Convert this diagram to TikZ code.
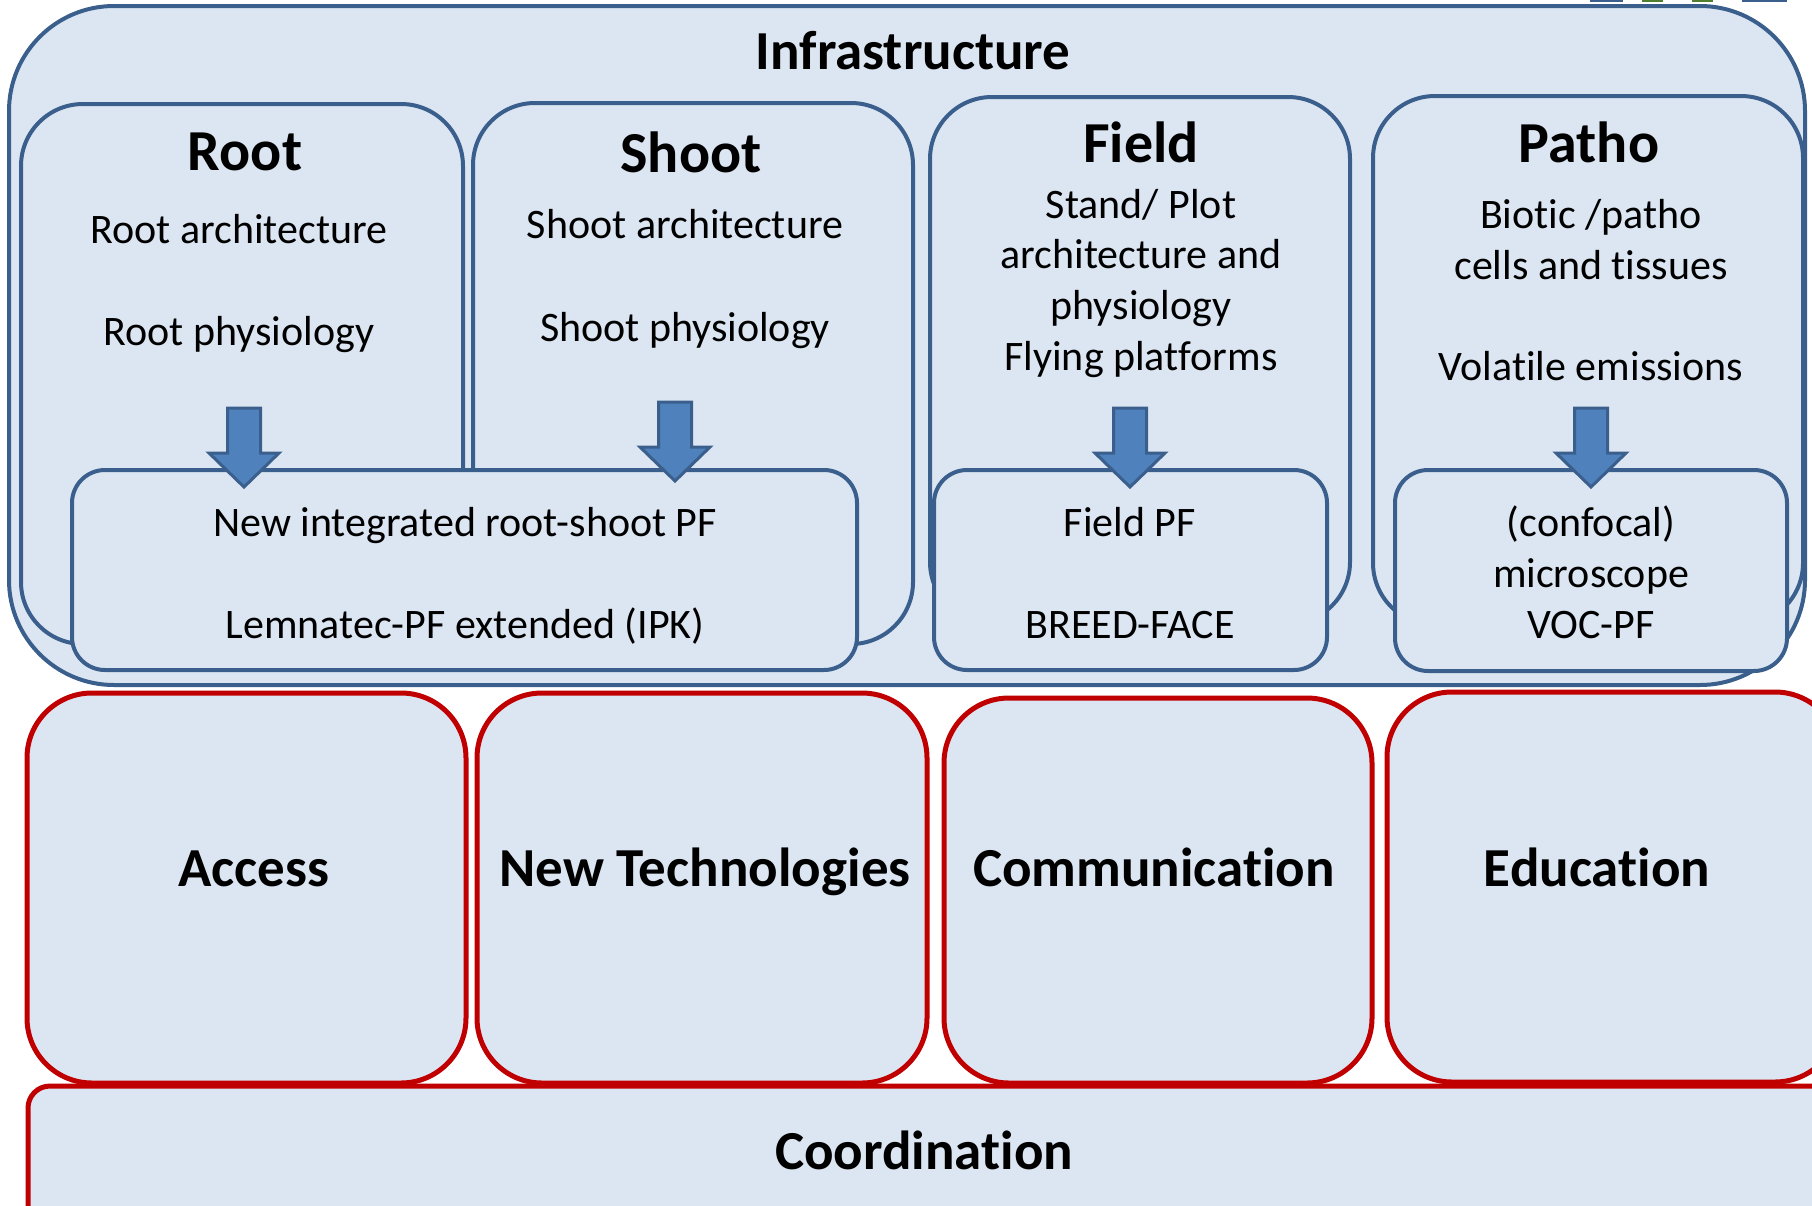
\documentclass[tikz,border=0pt]{standalone}
\usepackage{fontspec}
\setmainfont{Carlito}[RawFeature={-liga;-clig;-calt;-dlig}]
\usepackage{tikz}
\usetikzlibrary{fit}

\definecolor{boxfill}{HTML}{DCE6F2}
\definecolor{bordblue}{HTML}{3B5F8C}
\definecolor{arrowblue}{HTML}{4F81BD}
\definecolor{wpred}{HTML}{C00000}
\definecolor{logogreen}{HTML}{4E7F2E}

\begin{document}
\begin{tikzpicture}[x=1pt, y=-1pt,
			infra/.style={draw=bordblue, fill=boxfill, line width=4pt, rounded corners=105pt, inner sep=0pt},
			cell/.style={draw=bordblue, fill=boxfill, line width=4pt, rounded corners=62pt, inner sep=0pt},
			pfbox/.style={draw=bordblue, fill=boxfill, line width=4pt, rounded corners=33pt, inner sep=0pt},
			task/.style={draw=wpred, fill=boxfill, line width=5pt, rounded corners=65pt, inner sep=0pt},
			blockarrow/.style={draw=bordblue, fill=arrowblue, line width=3pt},
			ttl/.style={font=\fontsize{58}{70}\selectfont\bfseries, anchor=base, inner sep=0pt},
			txt/.style={font=\fontsize{42}{50}\selectfont, anchor=base, inner sep=0pt},
			lbl/.style={font=\fontsize{55}{66}\selectfont\bfseries, anchor=base, inner sep=0pt},
		]
			\useasboundingbox (0,0) rectangle (1812,1205);
			\clip (0,0) rectangle (1812,1205);
		
			%Logo remains
			\fill[bordblue]  (1590,0) rectangle (1623,2);
			\fill[logogreen] (1642,0) rectangle (1663,2);
			\fill[logogreen] (1692,0) rectangle (1713,2);
			\fill[bordblue]  (1742,0) rectangle (1787,2);
		
			%Cells
			\node[infra, fit={(9,6) (1805,685)}]		(infra)		{};
			\node[cell, fit={(21,104) (463,644)}]		(root)		{};
			\node[cell, fit={(473,103) (913,644)}]		(shoot)		{};
			\node[cell, fit={(930,97) (1350,624)}]		(field)		{};
			\node[cell, fit={(1373,96) (1803,625)}]		(patho)		{};
		
			\node[ttl, font=\fontsize{55}{66}\selectfont\bfseries]	(infratitle)	at (913,69)		{Infrastructure};
			\node[ttl]	(roottitle)		at (245,170)	{Root};
			\node[txt]	(rootarch)		at (239,243)	{Root architecture};
			\node[txt]	(rootphys)		at (239,345)	{Root physiology};
			\node[ttl]	(shoottitle)	at (691,172)	{Shoot};
			\node[txt]	(shootarch)		at (685,238)	{Shoot architecture};
			\node[txt]	(shootphys)		at (685,341)	{Shoot physiology};
			\node[ttl]	(fieldtitle)	at (1141,162)	{Field};
			\node[txt]	(fielda)		at (1141,218)	{Stand/ Plot};
			\node[txt]	(fieldb)		at (1141,268)	{architecture and};
			\node[txt]	(fieldc)		at (1141,319)	{physiology};
			\node[txt]	(fieldd)		at (1141,370)	{Flying platforms};
			\node[ttl]	(pathotitle)	at (1589,162)	{Patho};
			\node[txt]	(pathoa)		at (1591,228)	{Biotic /patho};
			\node[txt]	(pathob)		at (1591,279)	{cells and tissues};
			\node[txt]	(pathoc)		at (1591,380)	{Volatile emissions};
		
			%Platforms
			\node[pfbox, fit={(72,470) (857,670)}]		(rspf)		{};
			\node[pfbox, fit={(934,470) (1327,670)}]	(fieldpf)	{};
			\node[pfbox, fit={(1395,470) (1787,671)}]	(pathopf)	{};
		
			\node[txt]	(rspfa)			at (465,536)	{New integrated root-shoot PF};
			\node[txt]	(rspfb)			at (465,638)	{Lemnatec-PF extended (IPK)};
			\node[txt]	(fieldpfa)		at (1130,536)	{Field PF};
			\node[txt]	(fieldpfb)		at (1130,638)	{BREED-FACE};
			\node[txt]	(pathopfa)		at (1591,536)	{(confocal)};
			\node[txt]	(pathopfb)		at (1591,587)	{microscope};
			\node[txt]	(pathopfc)		at (1591,638)	{VOC-PF};
		
			%Arrows
			\foreach \ax/\ay in {244/487, 675/481, 1130/487, 1591/487}
				\draw[blockarrow] (\ax-16.5,\ay-79) -- ++(33,0) -- ++(0,45) -- ++(18.5,0) -- (\ax,\ay) -- (\ax-35,\ay-34) -- ++(18.5,0) -- cycle;
		
			%Tasks
			\node[task, fit={(27,693) (466,1083)}]		(access)	{};
			\node[task, fit={(477,693) (927,1083)}]		(newtech)	{};
			\node[task, fit={(944,698) (1372,1083)}]	(comm)		{};
			\node[task, fit={(1387,692) (1840,1082)}]	(edu)		{};
			\node[task, rounded corners=22pt, fit={(28,1086) (1860,1260)}]	(coord)	{};
		
			\node[lbl]	(accesslbl)		at (254,886)	{Access};
			\node[lbl]	(newtechlbl)	at (705,886)	{New Technologies};
			\node[lbl]	(commlbl)		at (1154,886)	{Communication};
			\node[lbl]	(edulbl)		at (1597,886)	{Education};
			\node[lbl]	(coordlbl)		at (924,1169)	{Coordination};
		
		\end{tikzpicture}
\end{document}
